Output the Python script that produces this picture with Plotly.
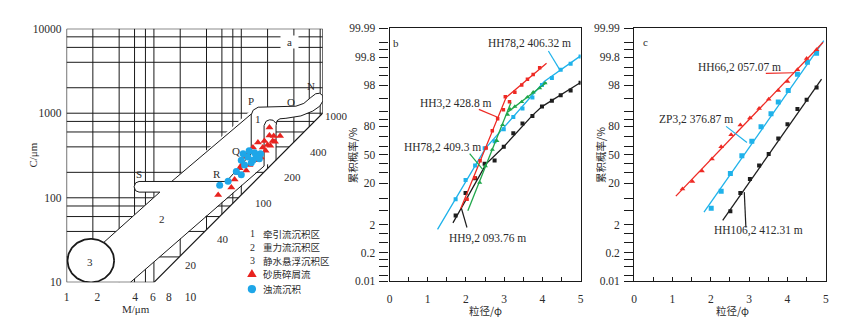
import numpy as np
import plotly.graph_objects as go
from statistics import NormalDist

W, H = 842, 324
SERIF = "Liberation Serif, Noto Sans CJK SC, serif"
CJK = "Noto Sans CJK SC, Liberation Serif, sans-serif"
TXT = "#2b2b2b"
LINE = "#1a1a1a"

# ---------------- Panel a : C-M diagram data ----------------
tri_M = [210, 210, 235, 278, 184, 229, 155, 136, 176, 124, 200, 155, 114, 142, 168,
         105, 124, 95.7, 114, 91.8, 100, 83.9, 76.9, 54.4, 215, 243, 190, 160]
tri_C = [680, 546, 536, 536, 470, 470, 449, 394, 394, 345, 420, 316, 303, 278, 300,
         255, 244, 224, 210, 196, 240, 164, 132, 108, 412, 461, 360, 330]
cir_M = [105, 142, 166, 100, 119, 148, 109, 136, 161, 87.7, 100, 70.6, 56.6, 123, 130]
cir_C = [331, 340, 331, 278, 303, 303, 244, 278, 290, 204, 187, 157, 141, 361, 260]

GRID_VALUES = [2, 4, 6, 8, 10, 20, 40, 60, 80, 100, 200, 400, 600, 800,
               1000, 2000, 4000, 6000, 8000]
C_TICK_VALUES = [10, 100, 1000, 10000]
M_TICK_TEXT = ["1", "2", "4", "6", "8", "10"]
M_TICK_AT = [1, 2.25, 6.1, 9.75, 14.8, 26.3]          # where the printed labels sit
DIAG_TEXT = ["400", "200", "100", "40", "20"]
DIAG_AT_M = [770, 390, 178, 62, 26.3]
DIAG_AT_C = [352, 178, 87.5, 32.3, 15.9]

# schematic outlines (log10 M, log10 C)
XMAX = 2.932
BAND2 = [(0.428, 1.474), (2.114, 3.037), (2.261, 2.922), (2.261, 2.387),
         (0.731, 1.0), (0.273, 1.0), (0.182, 1.36)]
TUBE_SR = [(0.830, 2.193), (1.830, 2.193), (1.830, 2.067), (0.830, 2.067),
           (0.790, 2.084), (0.773, 2.130), (0.790, 2.176)]
REGION1 = [(2.114, 2.523), (2.114, 2.980), (2.136, 3.036), (2.193, 3.071),
           (2.625, 3.083), (2.716, 3.116), (2.795, 3.185), (2.852, 3.230),
           (2.898, 3.236), (2.932, 3.208), (2.938, 3.151), (2.898, 3.083),
           (2.818, 3.025), (2.682, 2.968), (2.511, 2.940), (2.443, 2.934),
           (2.409, 2.911), (2.398, 2.854), (2.398, 2.444), (2.261, 2.375)]
L_UPPER = [(2.938, 3.151), (2.932, 3.208), (2.898, 3.236), (2.852, 3.230),
           (2.795, 3.185), (2.716, 3.116), (2.625, 3.083), (2.193, 3.071),
           (2.136, 3.036), (2.114, 2.980), (2.114, 2.523), (1.830, 2.193)]
L_LOWER = [(2.938, 3.151), (2.898, 3.083), (2.818, 3.025), (2.682, 2.968),
           (2.511, 2.940), (2.443, 2.934), (2.409, 2.911), (2.398, 2.854),
           (2.398, 2.444)]
L_BLOB = [(2.261, 2.375), (2.261, 2.854), (2.284, 2.905), (2.324, 2.922),
          (2.364, 2.917), (2.398, 2.88)]
L_SR = [(1.830, 2.193), (0.830, 2.193), (0.790, 2.176), (0.773, 2.130),
        (0.790, 2.084), (0.830, 2.067), (1.068, 2.067)]
L_A1 = [(0.428, 1.474), (1.068, 2.067)]
L_A2 = [(1.203, 2.193), (2.114, 2.99)]
L_B = [(0.731, 1.0), (2.261, 2.375)]
FRAME = [(0, 4), (XMAX, 4), (XMAX, 3.0), (1.0, 1.0), (0, 1.0), (0, 4)]
CIRCLE3 = (0.278, 1.257, 0.267, 0.257)
A_LABELS = [("P", 2.114, 3.139), ("O", 2.568, 3.128), ("N", 2.795, 3.318),
            ("1", 2.19, 2.937), ("Q", 1.943, 2.558), ("R", 1.724, 2.284),
            ("S", 0.826, 2.284), ("2", 1.091, 1.748), ("3", 0.273, 1.235)]

# ---------------- Panel b : probability curves ----------------
b_red_phi = [2.03, 2.23, 2.37, 2.53, 2.69, 2.83, 2.98, 3.03, 3.14, 3.28, 3.46, 3.61, 3.76, 3.93]
b_red_p = [9.5, 25, 43, 58, 76, 85.6, 90.8, 95.6, 94.1, 96.7, 98.0, 98.7, 99.1, 99.48]
b_red_lphi = [1.86, 3.05, 4.11]
b_red_lp = [5.5, 95.4, 99.65]

b_grn_phi = [2.36, 2.51, 2.69, 2.81, 2.96, 3.09, 3.15, 3.28, 3.46, 3.61, 3.76, 3.93, 4.07]
b_grn_p = [20.7, 37, 56, 66, 81, 88.2, 91.1, 92.2, 94.0, 95.5, 96.7, 97.5, 98.25]
b_grn_lphi = [2.05, 3.18, None, 3.09, 4.11]
b_grn_lp = [5.0, 93.8, None, 89.5, 98.33]

b_cya_phi = [1.73, 1.99, 2.24, 2.49, 2.75, 2.99, 3.24, 3.48, 3.74, 3.99, 4.25, 4.48, 4.74, 5.0]
b_cya_p = [9.5, 23, 37.7, 57.5, 65.5, 77.3, 86.7, 91.4, 95.4, 98.0, 98.8, 99.39, 99.63, 99.81]
b_cya_lphi = [1.257, 2.51, 4.05, 5.0]
b_cya_lp = [1.41, 57.5, 98.45, 99.82]

b_blk_phi = [1.73, 1.99, 2.24, 2.49, 2.75, 2.99, 3.24, 3.48, 3.74, 3.99, 4.25, 4.48, 4.74, 5.0]
b_blk_p = [3.7, 13.1, 24.4, 39.5, 43.2, 59.4, 73.8, 82.1, 87.3, 92.2, 94.4, 96.0, 97.1, 98.3]
b_blk_lphi = [1.66, 2.53, 2.99, 3.74, 3.99, 5.0]
b_blk_lp = [2.25, 39.5, 59.4, 87.7, 92.2, 98.33]

# ---------------- Panel c ----------------
c_red_phi = [1.26, 1.52, 1.77, 2.03, 2.27, 2.53, 2.77, 3.02, 3.26, 3.51, 3.76, 4.0, 4.26, 4.5, 4.76]
c_red_p = [15.7, 21.5, 31.7, 45.1, 59.4, 72.2, 80.9, 86.1, 91.4, 94.9, 97.1, 98.45, 99.39, 99.77, 99.90]
c_red_lphi = [1.088, 4.93]
c_red_lp = [11.2, 99.954]

c_cya_phi = [2.01, 2.27, 2.51, 2.81, 3.07, 3.31, 3.57, 3.76, 4.02, 4.26, 4.52, 4.76]
c_cya_p = [5.75, 14.2, 29.1, 48.9, 65.5, 79.6, 88.6, 94.0, 97.1, 99.12, 99.68, 99.86]
c_cya_lphi = [1.822, 4.948]
c_cya_lp = [4.55, 99.961]

c_blk_phi = [2.51, 2.77, 3.02, 3.26, 3.51, 3.76, 4.0, 4.26, 4.5, 4.76]
c_blk_p = [4.83, 13.1, 23.8, 37.7, 50.8, 68.3, 81.6, 91.1, 94.7, 97.6]
c_blk_lphi = [2.31, 4.89]
c_blk_lp = [2.69, 98.69]

PROB_TICKS = [0.01, 0.02, 0.05, 0.1, 0.2, 0.5, 1, 2, 5, 10, 20, 30, 40, 50, 60, 70,
              80, 85, 90, 95, 98, 99, 99.5, 99.8, 99.9, 99.95, 99.99]
PROB_LABELED = {0.01: "0.01", 0.2: "0.2", 2: "2", 20: "20", 50: "50", 80: "80",
                98: "98", 99.8: "99.8", 99.99: "99.99"}
PHI_TICKS = [0, 0.5, 1, 1.5, 2, 2.5, 3, 3.5, 4, 4.5, 5]

RED_A, BLUE_A = "#e8231f", "#1ea6e8"
RED, GREEN, CYAN, BLACK = "#ee2a24", "#1fa64a", "#1fb2ea", "#1e1e1e"

nd = NormalDist()


def pz(p):
    return None if p is None else nd.inv_cdf(p / 100.0)


fig = go.Figure()


def add_path(pts, xa, ya, color=LINE, width=1.0, fill=False):
    xs = [p[0] for p in pts]
    ys = [p[1] for p in pts]
    if fill:
        fig.add_trace(go.Scatter(x=xs, y=ys, xaxis=xa, yaxis=ya, mode="lines",
                                 fill="toself", fillcolor="white",
                                 line=dict(width=0, color="white"),
                                 hoverinfo="skip", showlegend=False))
    else:
        fig.add_trace(go.Scatter(x=xs, y=ys, xaxis=xa, yaxis=ya, mode="lines",
                                 line=dict(color=color, width=width),
                                 hoverinfo="skip", showlegend=False))


# ---- panel a grid clipped to the frame
slope = (3.0 - 1.0) / (XMAX - 1.0)
gx, gy = [], []
for v in GRID_VALUES:
    l = float(np.log10(v))
    if 0 < l < XMAX:
        gx += [l, l, None]
        gy += [max(1.0, 1.0 + slope * (l - 1.0)), 4.0, None]
    if 1 < l < 4:
        gx += [0, min(XMAX, 1.0 + (l - 1.0) / slope), None]
        gy += [l, l, None]
fig.add_trace(go.Scatter(x=gx, y=gy, xaxis="x", yaxis="y", mode="lines",
                         line=dict(color=LINE, width=1.0), hoverinfo="skip",
                         showlegend=False))

for poly in (BAND2, TUBE_SR, REGION1):
    add_path(poly, "x", "y", fill=True)
for ln in (L_A1, L_A2, L_B, L_UPPER, L_LOWER, L_BLOB, L_SR):
    add_path(ln, "x", "y", width=1.0)
add_path(FRAME, "x", "y", width=1.2)

cx, cy, rx, ry = CIRCLE3
t = np.linspace(0, 2 * np.pi, 120)
fig.add_trace(go.Scatter(x=cx + rx * np.cos(t), y=cy + ry * np.sin(t), xaxis="x", yaxis="y",
                         mode="lines", fill="toself", fillcolor="white",
                         line=dict(color=LINE, width=1.8), hoverinfo="skip", showlegend=False))

fig.add_trace(go.Scatter(x=np.log10(tri_M), y=np.log10(tri_C), xaxis="x", yaxis="y",
                         mode="markers", marker=dict(symbol="triangle-up", size=7, color=RED_A),
                         showlegend=False))
fig.add_trace(go.Scatter(x=np.log10(cir_M), y=np.log10(cir_C), xaxis="x", yaxis="y",
                         mode="markers", marker=dict(symbol="circle", size=7, color=BLUE_A),
                         showlegend=False))


def add_series(phi, p, lphi, lp, color, symbol, size, xa, ya):
    fig.add_trace(go.Scatter(x=lphi, y=[pz(v) for v in lp], xaxis=xa, yaxis=ya, mode="lines",
                             line=dict(color=color, width=1.3), connectgaps=False,
                             hoverinfo="skip", showlegend=False))
    fig.add_trace(go.Scatter(x=phi, y=[pz(v) for v in p], xaxis=xa, yaxis=ya, mode="markers",
                             marker=dict(symbol=symbol, size=size, color=color),
                             showlegend=False))


add_series(b_cya_phi, b_cya_p, b_cya_lphi, b_cya_lp, CYAN, "square", 4, "x2", "y2")
add_series(b_blk_phi, b_blk_p, b_blk_lphi, b_blk_lp, BLACK, "square", 4, "x2", "y2")
add_series(b_grn_phi, b_grn_p, b_grn_lphi, b_grn_lp, GREEN, "triangle-up", 4.5, "x2", "y2")
add_series(b_red_phi, b_red_p, b_red_lphi, b_red_lp, RED, "square", 3.5, "x2", "y2")

add_series(c_blk_phi, c_blk_p, c_blk_lphi, c_blk_lp, BLACK, "square", 4, "x3", "y3")
add_series(c_cya_phi, c_cya_p, c_cya_lphi, c_cya_lp, CYAN, "square", 5, "x3", "y3")
add_series(c_red_phi, c_red_p, c_red_lphi, c_red_lp, RED, "triangle-up", 5, "x3", "y3")

# leader lines (data units phi, z)
LEADERS = [
    ("x2", "y2", CYAN, [4.158, 4.454], [3.056, 2.508]),
    ("x2", "y2", RED, [2.339, 2.859], [1.338, 1.091]),
    ("x2", "y2", GREEN, [2.097, 2.443], [0.034, -0.439]),
    ("x2", "y2", BLACK, [2.027, 1.881], [-2.14, -1.573]),
    ("x3", "y3", RED, [3.435, 4.171], [2.395, 2.415]),
    ("x3", "y3", CYAN, [2.399, 2.943], [0.836, 0.363]),
    ("x3", "y3", BLACK, [2.915, 2.873], [-2.14, -1.10]),
]
for xa, ya, col, xs, ys in LEADERS:
    fig.add_trace(go.Scatter(x=xs, y=ys, xaxis=xa, yaxis=ya, mode="lines",
                             line=dict(color=col, width=1.2), hoverinfo="skip",
                             showlegend=False))


def px2paper(px, py):
    return px / W, 1 - py / H


ann = []


def note(text, px, py, size=11, font=SERIF, angle=0, xanchor="center", **kw):
    x, y = px2paper(px, py)
    ann.append(dict(text=text, x=x, y=y, xref="paper", yref="paper", showarrow=False,
                    xanchor=xanchor, yanchor="middle", textangle=angle,
                    font=dict(family=font, size=size, color=TXT), **kw))


# panel a labels in data units (log10 M, log10 C)
for txt, lx, ly in A_LABELS:
    ann.append(dict(text=txt, x=lx, y=ly, xref="x", yref="y", showarrow=False,
                    font=dict(family=SERIF, size=11, color=TXT)))
for txt, m, c in zip(DIAG_TEXT, DIAG_AT_M, DIAG_AT_C):
    ann.append(dict(text=txt, x=float(np.log10(m)), y=float(np.log10(c)), xref="x", yref="y",
                    showarrow=False, font=dict(family=SERIF, size=11, color=TXT)))
note("1000", 336, 114)
ann.append(dict(text="a", x=2.557, y=3.846, xref="x", yref="y", showarrow=False,
                bgcolor="white", width=17, height=12, borderpad=0,
                font=dict(family=SERIF, size=11, color=TXT)))

note("C/μm", 30.5, 155, angle=-90)
note("M/μm", 134, 315)
LEG = [("1", "牵引流沉积区", 236.4), ("2", "重力流沉积区", 250.6),
       ("3", "静水悬浮沉积区", 264.5), ("", "砂质碎屑流", 278.4), ("", "浊流沉积", 294)]
for num, txt, py in LEG:
    if num:
        note(num, 251, py, size=10, borderpad=0)
    note(txt, 261, py, size=9.5, font=CJK, xanchor="left", borderpad=0)

# legend keys as shapes (paper)
shapes = []
tx, ty = 250.7, 277.7
shapes.append(dict(type="path", xref="paper", yref="paper",
                   path="M {:.5f},{:.5f} L {:.5f},{:.5f} L {:.5f},{:.5f} Z".format(
                       tx / W, 1 - (ty - 4.5) / H, (tx - 4.8) / W, 1 - (ty + 3.8) / H,
                       (tx + 4.8) / W, 1 - (ty + 3.8) / H),
                   fillcolor=RED_A, line=dict(width=0)))
cxp, cyp, r = 250.7, 294, 4.2
shapes.append(dict(type="circle", xref="paper", yref="paper",
                   x0=(cxp - r) / W, x1=(cxp + r) / W, y0=1 - (cyp + r) / H, y1=1 - (cyp - r) / H,
                   fillcolor=BLUE_A, line=dict(width=0)))

# panel b/c text
note("b", 396, 38.5)
note("c", 647, 37)
note("累积概率/%", 351.5, 155, size=10.5, font=CJK, angle=-90)
note("累积概率/%", 602, 155, size=10.5, font=CJK, angle=-90)
note("粒径/φ", 486, 316.5, size=10.5, font=CJK, borderpad=0)
note("粒径/φ", 735, 316.5, size=10.5, font=CJK, borderpad=0)
note("HH78,2 406.32 m", 530, 38.5, size=11.5)
note("HH3,2 428.8 m", 455.8, 101, size=11.5)
note("HH78,2 409.3 m", 442.5, 146.7, size=11.5)
note("HH9,2 093.76 m", 487.5, 241, size=11.5)
note("HH66,2 057.07 m", 741.7, 64.3, size=11.5)
note("ZP3,2 376.87 m", 697.5, 118.3, size=11.5)
note("HH106,2 412.31 m", 760.5, 233.3, size=11.5)

tickfont = dict(family=SERIF, size=11.5, color=TXT)
prob_vals = [pz(p) for p in PROB_TICKS]
prob_text = [PROB_LABELED.get(p, "") for p in PROB_TICKS]
phi_text = [str(int(v)) if float(v).is_integer() else "" for v in PHI_TICKS]
zmax = pz(99.99)


def prob_y(domain, anchor):
    return dict(domain=domain, anchor=anchor, range=[-zmax, zmax], showgrid=False,
                zeroline=False, showline=True, mirror=True, linecolor=LINE, linewidth=1.2,
                ticks="outside", ticklen=9, tickwidth=1, tickcolor=LINE,
                tickvals=prob_vals, ticktext=prob_text, tickfont=tickfont,
                ticklabelstandoff=2)


def phi_x(domain, anchor):
    return dict(domain=domain, anchor=anchor, range=[0, 5], showgrid=False, zeroline=False,
                showline=True, mirror=True, linecolor=LINE, linewidth=1.2,
                ticks="inside", ticklen=4, tickwidth=1, tickcolor=LINE,
                tickvals=PHI_TICKS, ticktext=phi_text, tickfont=tickfont,
                ticklabelstandoff=7)


yb_dom = [1 - 285.7 / H, 1 - 23.3 / H]
fig.update_layout(
    width=W, height=H, margin=dict(l=0, r=0, t=0, b=0),
    paper_bgcolor="white", plot_bgcolor="white", showlegend=False,
    xaxis=dict(domain=[64 / W, 322 / W], anchor="y", range=[0, XMAX], showgrid=False,
               zeroline=False, showline=False, ticks="",
               tickvals=[float(np.log10(v)) for v in M_TICK_AT], ticktext=M_TICK_TEXT,
               tickfont=tickfont, ticklabelstandoff=6),
    yaxis=dict(domain=[1 - 287 / H, 1 - 23.5 / H], anchor="x", range=[1, 4], showgrid=False,
               zeroline=False, showline=False, ticks="",
               tickvals=[float(np.log10(v)) for v in C_TICK_VALUES],
               ticktext=[str(v) for v in C_TICK_VALUES], tickfont=tickfont,
               ticklabelstandoff=4),
    xaxis2=phi_x([389.3 / W, 581.7 / W], "y2"),
    yaxis2=prob_y(yb_dom, "x2"),
    xaxis3=phi_x([635.7 / W, 828.7 / W], "y3"),
    yaxis3=prob_y(yb_dom, "x3"),
    annotations=ann,
    shapes=shapes,
)

fig.write_html("out.html")
